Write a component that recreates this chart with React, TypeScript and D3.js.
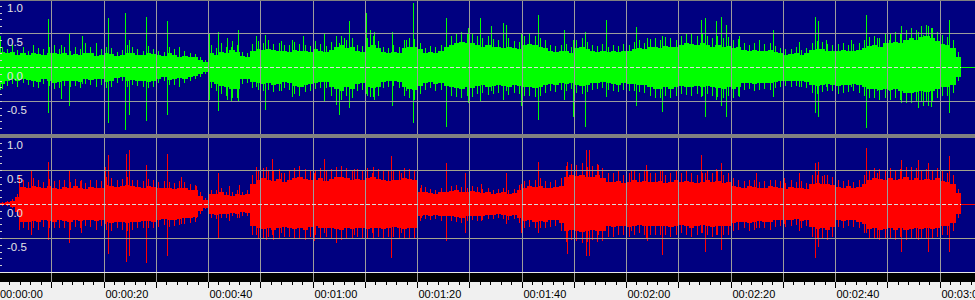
import React from "react";
import * as d3 from "d3";

// ---- data: dense-body amplitude per second (0..184 s) ----
const LEFT_UP = [
  0.22, 0.2, 0.22, 0.18, 0.2, 0.17, 0.21, 0.19, 0.18, 0.2,
  0.21, 0.19, 0.2, 0.17, 0.19, 0.18, 0.2, 0.21, 0.16, 0.18,
  0.2, 0.19, 0.16, 0.17, 0.21, 0.2, 0.18, 0.17, 0.2, 0.19,
  0.17, 0.16, 0.2, 0.18, 0.15, 0.16, 0.15, 0.14, 0.1, 0.07,
  0.2, 0.18, 0.22, 0.2, 0.25, 0.22, 0.16, 0.15, 0.24, 0.26,
  0.25, 0.27, 0.25, 0.24, 0.23, 0.22, 0.25, 0.24, 0.23, 0.22,
  0.26, 0.24, 0.22, 0.25, 0.3, 0.32, 0.28, 0.3, 0.24, 0.22,
  0.3, 0.32, 0.28, 0.22, 0.2, 0.22, 0.21, 0.28, 0.3, 0.29,
  0.26, 0.2, 0.22, 0.21, 0.23, 0.3, 0.32, 0.36, 0.37, 0.35,
  0.36, 0.33, 0.3, 0.32, 0.3, 0.29, 0.28, 0.3, 0.28, 0.27,
  0.32, 0.34, 0.33, 0.3, 0.28, 0.24, 0.22, 0.23, 0.24, 0.21,
  0.28, 0.3, 0.27, 0.23, 0.22, 0.24, 0.22, 0.23, 0.22, 0.24,
  0.23, 0.26, 0.28, 0.26, 0.29, 0.3, 0.28, 0.31, 0.3, 0.29,
  0.32, 0.35, 0.34, 0.33, 0.35, 0.32, 0.3, 0.32, 0.3, 0.31,
  0.28, 0.29, 0.25, 0.24, 0.25, 0.23, 0.24, 0.25, 0.22, 0.2,
  0.18, 0.19, 0.2, 0.18, 0.2, 0.25, 0.27, 0.26, 0.24, 0.23,
  0.24, 0.25, 0.23, 0.24, 0.25, 0.28, 0.31, 0.32, 0.3, 0.35,
  0.36, 0.37, 0.35, 0.4, 0.42, 0.39, 0.44, 0.45, 0.42, 0.38,
  0.34, 0.32, 0.28, 0.15, 0.04,
];
const LEFT_DOWN = [
  0.25, 0.2, 0.18, 0.2, 0.17, 0.19, 0.2, 0.22, 0.18, 0.2,
  0.23, 0.22, 0.2, 0.21, 0.2, 0.22, 0.18, 0.19, 0.17, 0.18,
  0.22, 0.21, 0.16, 0.15, 0.2, 0.19, 0.2, 0.2, 0.22, 0.21,
  0.17, 0.15, 0.19, 0.18, 0.16, 0.17, 0.14, 0.13, 0.1, 0.08,
  0.22, 0.25, 0.28, 0.3, 0.33, 0.32, 0.18, 0.17, 0.22, 0.24,
  0.25, 0.24, 0.26, 0.25, 0.22, 0.24, 0.28, 0.3, 0.26, 0.25,
  0.23, 0.22, 0.22, 0.3, 0.33, 0.35, 0.3, 0.32, 0.25, 0.24,
  0.3, 0.31, 0.3, 0.22, 0.21, 0.2, 0.22, 0.3, 0.33, 0.34,
  0.28, 0.24, 0.22, 0.25, 0.24, 0.28, 0.3, 0.31, 0.32, 0.3,
  0.31, 0.28, 0.27, 0.29, 0.28, 0.27, 0.28, 0.29, 0.27, 0.28,
  0.3, 0.3, 0.31, 0.3, 0.27, 0.25, 0.26, 0.24, 0.25, 0.23,
  0.27, 0.28, 0.26, 0.24, 0.23, 0.22, 0.24, 0.25, 0.26, 0.24,
  0.25, 0.25, 0.26, 0.27, 0.3, 0.33, 0.32, 0.3, 0.33, 0.3,
  0.28, 0.29, 0.3, 0.28, 0.3, 0.28, 0.3, 0.31, 0.33, 0.3,
  0.32, 0.3, 0.24, 0.23, 0.25, 0.24, 0.23, 0.24, 0.22, 0.21,
  0.2, 0.21, 0.2, 0.21, 0.22, 0.27, 0.28, 0.26, 0.25, 0.26,
  0.28, 0.27, 0.26, 0.25, 0.27, 0.3, 0.32, 0.33, 0.34, 0.32,
  0.34, 0.33, 0.35, 0.38, 0.38, 0.37, 0.36, 0.37, 0.36, 0.33,
  0.3, 0.3, 0.27, 0.14, 0.04,
];
const RIGHT_UP = [
  0.02, 0.03, 0.05, 0.1, 0.25, 0.24, 0.27, 0.25, 0.23, 0.26,
  0.24, 0.22, 0.25, 0.23, 0.26, 0.24, 0.22, 0.25, 0.23, 0.24,
  0.28, 0.27, 0.25, 0.26, 0.28, 0.26, 0.25, 0.24, 0.26, 0.25,
  0.23, 0.24, 0.23, 0.22, 0.24, 0.23, 0.21, 0.2, 0.12, 0.06,
  0.15, 0.14, 0.17, 0.13, 0.12, 0.15, 0.13, 0.14, 0.3, 0.35,
  0.38, 0.36, 0.34, 0.37, 0.33, 0.36, 0.38, 0.4, 0.37, 0.35,
  0.36, 0.38, 0.34, 0.37, 0.39, 0.4, 0.38, 0.36, 0.37, 0.35,
  0.38, 0.39, 0.37, 0.36, 0.34, 0.35, 0.36, 0.38, 0.37, 0.35,
  0.17, 0.18, 0.16, 0.15, 0.17, 0.18, 0.19, 0.2, 0.18, 0.17,
  0.19, 0.18, 0.16, 0.17, 0.15, 0.16, 0.17, 0.15, 0.16, 0.2,
  0.24, 0.26, 0.25, 0.27, 0.24, 0.23, 0.25, 0.27, 0.4, 0.42,
  0.41, 0.43, 0.39, 0.4, 0.42, 0.38, 0.33, 0.32, 0.34, 0.31,
  0.33, 0.35, 0.32, 0.34, 0.33, 0.32, 0.34, 0.31, 0.33, 0.35,
  0.32, 0.34, 0.33, 0.31, 0.33, 0.35, 0.32, 0.34, 0.31, 0.33,
  0.27, 0.25, 0.24, 0.26, 0.25, 0.23, 0.24, 0.26, 0.25, 0.24,
  0.22, 0.25, 0.23, 0.24, 0.22, 0.3, 0.31, 0.29, 0.3, 0.28,
  0.25, 0.24, 0.26, 0.23, 0.25, 0.3, 0.36, 0.38, 0.37, 0.35,
  0.38, 0.36, 0.37, 0.39, 0.36, 0.38, 0.35, 0.37, 0.36, 0.38,
  0.34, 0.33, 0.3, 0.16, 0.05,
];
const RIGHT_DOWN = [
  0.02, 0.02, 0.04, 0.12, 0.26, 0.27, 0.25, 0.27, 0.24, 0.25,
  0.26, 0.23, 0.25, 0.27, 0.24, 0.25, 0.23, 0.24, 0.25, 0.23,
  0.27, 0.28, 0.26, 0.27, 0.28, 0.27, 0.26, 0.25, 0.25, 0.26,
  0.24, 0.22, 0.24, 0.23, 0.22, 0.21, 0.2, 0.19, 0.1, 0.06,
  0.14, 0.16, 0.15, 0.14, 0.13, 0.14, 0.12, 0.13, 0.32, 0.36,
  0.37, 0.35, 0.38, 0.36, 0.34, 0.35, 0.37, 0.36, 0.38, 0.34,
  0.33, 0.36, 0.35, 0.36, 0.37, 0.38, 0.36, 0.37, 0.35, 0.36,
  0.37, 0.36, 0.35, 0.37, 0.35, 0.34, 0.36, 0.37, 0.36, 0.36,
  0.18, 0.16, 0.17, 0.16, 0.18, 0.17, 0.18, 0.19, 0.2, 0.18,
  0.17, 0.18, 0.17, 0.16, 0.16, 0.15, 0.16, 0.17, 0.16, 0.2,
  0.25, 0.24, 0.26, 0.25, 0.26, 0.24, 0.23, 0.28, 0.4, 0.38,
  0.39, 0.41, 0.4, 0.38, 0.4, 0.39, 0.32, 0.34, 0.33, 0.32,
  0.34, 0.33, 0.31, 0.33, 0.32, 0.33, 0.32, 0.33, 0.34, 0.33,
  0.31, 0.33, 0.35, 0.32, 0.31, 0.33, 0.34, 0.32, 0.33, 0.32,
  0.28, 0.27, 0.26, 0.28, 0.27, 0.25, 0.26, 0.27, 0.24, 0.23,
  0.24, 0.23, 0.22, 0.25, 0.23, 0.34, 0.37, 0.36, 0.38, 0.34,
  0.24, 0.25, 0.23, 0.24, 0.26, 0.3, 0.37, 0.36, 0.38, 0.37,
  0.36, 0.38, 0.35, 0.38, 0.37, 0.36, 0.37, 0.36, 0.37, 0.35,
  0.33, 0.32, 0.28, 0.15, 0.05,
];

// ---- data: jagged edge peaks, one per second at t + 0.5 ----
const LEFT_UP_EDGE = [
  0.3, 0.27, 0.33, 0.25, 0.3, 0.24, 0.32, 0.28, 0.26, 0.3,
  0.33, 0.26, 0.3, 0.24, 0.29, 0.27, 0.35, 0.3, 0.22, 0.26,
  0.3, 0.28, 0.22, 0.25, 0.33, 0.29, 0.26, 0.24, 0.31, 0.27,
  0.24, 0.22, 0.3, 0.26, 0.21, 0.24, 0.2, 0.19, 0.14, 0.1,
  0.32, 0.28, 0.35, 0.3, 0.38, 0.33, 0.22, 0.21, 0.34, 0.38,
  0.35, 0.4, 0.34, 0.36, 0.32, 0.33, 0.37, 0.34, 0.33, 0.31,
  0.38, 0.34, 0.31, 0.37, 0.42, 0.45, 0.39, 0.43, 0.33, 0.31,
  0.42, 0.45, 0.38, 0.3, 0.28, 0.32, 0.29, 0.4, 0.43, 0.41,
  0.36, 0.28, 0.31, 0.3, 0.33, 0.42, 0.45, 0.5, 0.52, 0.48,
  0.5, 0.45, 0.42, 0.46, 0.41, 0.4, 0.39, 0.43, 0.38, 0.37,
  0.45, 0.48, 0.46, 0.42, 0.39, 0.33, 0.31, 0.33, 0.34, 0.3,
  0.4, 0.43, 0.37, 0.32, 0.31, 0.34, 0.3, 0.33, 0.31, 0.34,
  0.32, 0.37, 0.4, 0.36, 0.41, 0.42, 0.39, 0.44, 0.42, 0.4,
  0.45, 0.5, 0.48, 0.46, 0.5, 0.45, 0.42, 0.46, 0.42, 0.44,
  0.4, 0.41, 0.35, 0.33, 0.36, 0.32, 0.34, 0.35, 0.31, 0.28,
  0.26, 0.27, 0.29, 0.25, 0.28, 0.36, 0.38, 0.37, 0.34, 0.32,
  0.34, 0.36, 0.32, 0.34, 0.35, 0.39, 0.44, 0.45, 0.42, 0.49,
  0.5, 0.52, 0.49, 0.55, 0.58, 0.54, 0.6, 0.62, 0.58, 0.52,
  0.47, 0.44, 0.4, 0.22, 0.06,
];
const LEFT_DOWN_EDGE = [
  0.33, 0.28, 0.25, 0.29, 0.24, 0.27, 0.29, 0.31, 0.25, 0.28,
  0.32, 0.31, 0.28, 0.3, 0.28, 0.31, 0.25, 0.27, 0.24, 0.26,
  0.31, 0.3, 0.23, 0.21, 0.29, 0.27, 0.28, 0.29, 0.31, 0.3,
  0.24, 0.21, 0.27, 0.26, 0.23, 0.24, 0.2, 0.18, 0.14, 0.11,
  0.31, 0.36, 0.4, 0.43, 0.46, 0.45, 0.25, 0.24, 0.31, 0.34,
  0.36, 0.34, 0.37, 0.35, 0.31, 0.34, 0.4, 0.42, 0.37, 0.35,
  0.32, 0.31, 0.31, 0.42, 0.47, 0.49, 0.42, 0.45, 0.35, 0.34,
  0.42, 0.44, 0.42, 0.31, 0.3, 0.28, 0.31, 0.42, 0.46, 0.48,
  0.4, 0.34, 0.31, 0.35, 0.34, 0.4, 0.42, 0.44, 0.45, 0.42,
  0.44, 0.4, 0.38, 0.41, 0.4, 0.38, 0.39, 0.41, 0.38, 0.4,
  0.42, 0.42, 0.44, 0.42, 0.38, 0.35, 0.37, 0.34, 0.35, 0.32,
  0.38, 0.4, 0.37, 0.34, 0.32, 0.31, 0.34, 0.35, 0.37, 0.34,
  0.35, 0.35, 0.37, 0.38, 0.42, 0.46, 0.45, 0.42, 0.46, 0.42,
  0.4, 0.41, 0.42, 0.4, 0.42, 0.4, 0.42, 0.44, 0.46, 0.42,
  0.45, 0.42, 0.34, 0.32, 0.35, 0.34, 0.32, 0.34, 0.31, 0.3,
  0.28, 0.3, 0.28, 0.3, 0.31, 0.38, 0.39, 0.37, 0.35, 0.36,
  0.39, 0.38, 0.37, 0.35, 0.38, 0.42, 0.45, 0.46, 0.48, 0.45,
  0.48, 0.46, 0.49, 0.53, 0.53, 0.52, 0.5, 0.52, 0.5, 0.46,
  0.42, 0.42, 0.38, 0.2, 0.06,
];
const RIGHT_UP_EDGE = [
  0.03, 0.04, 0.08, 0.15, 0.35, 0.33, 0.38, 0.35, 0.32, 0.37,
  0.34, 0.31, 0.35, 0.32, 0.37, 0.34, 0.31, 0.35, 0.32, 0.34,
  0.39, 0.38, 0.35, 0.37, 0.4, 0.36, 0.35, 0.34, 0.37, 0.35,
  0.32, 0.34, 0.32, 0.31, 0.34, 0.32, 0.3, 0.28, 0.17, 0.09,
  0.21, 0.2, 0.24, 0.18, 0.17, 0.21, 0.18, 0.2, 0.42, 0.49,
  0.53, 0.5, 0.48, 0.52, 0.46, 0.5, 0.53, 0.56, 0.52, 0.49,
  0.5, 0.53, 0.48, 0.52, 0.55, 0.56, 0.53, 0.5, 0.52, 0.49,
  0.53, 0.55, 0.52, 0.5, 0.48, 0.49, 0.5, 0.53, 0.52, 0.49,
  0.24, 0.25, 0.22, 0.21, 0.24, 0.25, 0.27, 0.28, 0.25, 0.24,
  0.27, 0.25, 0.22, 0.24, 0.21, 0.22, 0.24, 0.21, 0.22, 0.28,
  0.34, 0.36, 0.35, 0.38, 0.34, 0.32, 0.35, 0.38, 0.56, 0.59,
  0.57, 0.6, 0.55, 0.56, 0.59, 0.53, 0.46, 0.45, 0.48, 0.43,
  0.46, 0.49, 0.45, 0.48, 0.46, 0.45, 0.48, 0.43, 0.46, 0.49,
  0.45, 0.48, 0.46, 0.43, 0.46, 0.49, 0.45, 0.48, 0.43, 0.46,
  0.38, 0.35, 0.34, 0.36, 0.35, 0.32, 0.34, 0.36, 0.35, 0.34,
  0.31, 0.35, 0.32, 0.34, 0.31, 0.42, 0.43, 0.41, 0.42, 0.39,
  0.35, 0.34, 0.36, 0.32, 0.35, 0.42, 0.5, 0.53, 0.52, 0.49,
  0.53, 0.5, 0.52, 0.55, 0.5, 0.53, 0.49, 0.52, 0.5, 0.53,
  0.48, 0.46, 0.42, 0.22, 0.07,
];
const RIGHT_DOWN_EDGE = [
  0.03, 0.03, 0.06, 0.17, 0.36, 0.38, 0.35, 0.38, 0.34, 0.35,
  0.36, 0.32, 0.35, 0.38, 0.34, 0.35, 0.32, 0.34, 0.35, 0.32,
  0.38, 0.39, 0.36, 0.38, 0.39, 0.38, 0.36, 0.35, 0.35, 0.36,
  0.34, 0.31, 0.34, 0.32, 0.31, 0.29, 0.28, 0.27, 0.14, 0.08,
  0.2, 0.22, 0.21, 0.2, 0.18, 0.2, 0.17, 0.18, 0.45, 0.5,
  0.52, 0.49, 0.53, 0.5, 0.48, 0.49, 0.52, 0.5, 0.53, 0.48,
  0.46, 0.5, 0.49, 0.5, 0.52, 0.53, 0.5, 0.52, 0.49, 0.5,
  0.52, 0.5, 0.49, 0.52, 0.49, 0.48, 0.5, 0.52, 0.5, 0.5,
  0.25, 0.22, 0.24, 0.22, 0.25, 0.24, 0.25, 0.27, 0.28, 0.25,
  0.24, 0.25, 0.24, 0.22, 0.22, 0.21, 0.22, 0.24, 0.22, 0.28,
  0.35, 0.34, 0.36, 0.35, 0.36, 0.34, 0.32, 0.39, 0.56, 0.53,
  0.55, 0.57, 0.56, 0.53, 0.56, 0.55, 0.45, 0.48, 0.46, 0.45,
  0.48, 0.46, 0.43, 0.46, 0.45, 0.46, 0.45, 0.46, 0.48, 0.46,
  0.43, 0.46, 0.49, 0.45, 0.43, 0.46, 0.48, 0.45, 0.46, 0.45,
  0.39, 0.38, 0.36, 0.39, 0.38, 0.35, 0.36, 0.38, 0.34, 0.32,
  0.34, 0.32, 0.31, 0.35, 0.32, 0.48, 0.52, 0.5, 0.53, 0.48,
  0.34, 0.35, 0.32, 0.34, 0.36, 0.42, 0.52, 0.5, 0.53, 0.52,
  0.5, 0.53, 0.49, 0.53, 0.52, 0.5, 0.52, 0.5, 0.52, 0.49,
  0.46, 0.45, 0.39, 0.21, 0.07,
];

// ---- data: tall transient peaks [seconds, up, down] ----
const LEFT_PEAKS: [number, number, number][] = [
  [0.13, 0.45, 0.34], [9.44, 0.71, 0.68], [11.93, 0.32, 0.47], [13.4, 0.5, 0.58],
  [15.95, 0.45, 0.25], [18.5, 0.35, 0.3], [20.16, 0.59, 0.3], [20.93, 0.72, 0.82],
  [24.18, 0.79, 0.92], [24.94, 0.4, 0.71], [28.13, 0.73, 0.79], [32.22, 0.67, 0.71],
  [34.45, 0.3, 0.3], [40.19, 0.5, 0.49], [41.98, 0.51, 0.64], [43.64, 0.42, 0.49],
  [44.34, 0.3, 0.5], [45.68, 0.54, 0.5], [49.1, 0.45, 0.3], [50.97, 0.47, 0.63],
  [53.9, 0.38, 0.35], [56.14, 0.4, 0.44], [58.2, 0.45, 0.3], [62.2, 0.5, 0.51],
  [64.5, 0.45, 0.56], [65.1, 0.35, 0.7], [66.1, 0.42, 0.3], [67.05, 0.67, 0.6],
  [70.3, 0.79, 0.4], [71.07, 0.55, 0.44], [71.84, 0.52, 0.48], [75.15, 0.52, 0.58],
  [77.9, 0.4, 0.35], [79.17, 0.94, 0.83], [85.62, 0.72, 0.88], [89.7, 0.57, 0.53],
  [92.1, 0.72, 0.51], [94.2, 0.6, 0.35], [96.4, 0.64, 0.48], [97.04, 0.62, 0.35],
  [99.9, 0.5, 0.58], [101.5, 0.5, 0.35], [103.1, 0.76, 0.78], [108.2, 0.54, 0.48],
  [109.9, 0.4, 0.73], [112.2, 0.52, 0.88], [116.2, 0.69, 0.44], [120.0, 0.52, 0.35],
  [122.0, 0.59, 0.58], [123.5, 0.35, 0.3], [124.1, 0.42, 0.3], [126.95, 0.45, 0.66],
  [134.3, 0.69, 0.44], [135.05, 0.72, 0.74], [137.2, 0.67, 0.48], [138.24, 0.74, 0.58],
  [139.07, 0.62, 0.74], [140.0, 0.64, 0.39], [141.6, 0.45, 0.44], [145.45, 0.4, 0.3],
  [148.2, 0.54, 0.44], [153.1, 0.37, 0.3], [156.1, 0.74, 0.68], [156.8, 0.67, 0.74],
  [158.2, 0.4, 0.3], [160.0, 0.47, 0.48], [163.0, 0.4, 0.3], [166.0, 0.76, 0.89],
  [168.1, 0.42, 0.35], [170.3, 0.4, 0.35], [172.7, 0.6, 0.53], [174.5, 0.42, 0.4],
  [175.9, 0.52, 0.61], [176.9, 0.47, 0.58], [177.8, 0.6, 0.58], [178.4, 0.57, 0.59],
  [181.9, 0.69, 0.68],
];
const RIGHT_PEAKS: [number, number, number][] = [
  [3.83, 0.43, 0.38], [6.06, 0.5, 0.46], [9.44, 0.62, 0.53], [11.5, 0.35, 0.35],
  [13.4, 0.5, 0.58], [15.63, 0.35, 0.43], [18.5, 0.35, 0.38], [20.29, 0.55, 0.3],
  [20.93, 0.72, 0.73], [24.24, 0.74, 0.85], [24.94, 0.79, 0.77], [28.13, 0.57, 0.87],
  [29.98, 0.35, 0.43], [32.22, 0.74, 0.77], [34.77, 0.4, 0.3], [37.64, 0.26, 0.2],
  [41.98, 0.45, 0.5], [44.0, 0.26, 0.25], [45.93, 0.28, 0.2], [49.1, 0.54, 0.45],
  [51.04, 0.55, 0.53], [52.3, 0.66, 0.45], [53.9, 0.45, 0.43], [57.4, 0.48, 0.45],
  [60.3, 0.45, 0.55], [62.2, 0.66, 0.43], [64.5, 0.45, 0.58], [68.0, 0.52, 0.45],
  [70.12, 0.79, 0.53], [71.33, 0.45, 0.43], [75.0, 0.7, 0.8], [76.9, 0.45, 0.42],
  [80.8, 0.28, 0.2], [85.55, 0.6, 0.55], [89.1, 0.45, 0.43], [92.2, 0.3, 0.25],
  [97.04, 0.45, 0.3], [99.9, 0.3, 0.43], [103.1, 0.62, 0.43], [108.8, 0.62, 0.73],
  [112.35, 0.79, 0.77], [113.0, 0.79, 0.77], [114.6, 0.58, 0.45], [116.5, 0.45, 0.48],
  [121.0, 0.5, 0.4], [123.8, 0.57, 0.5], [124.1, 0.5, 0.55], [126.95, 0.48, 0.75],
  [134.3, 0.72, 0.43], [135.05, 0.45, 0.7], [137.2, 0.52, 0.45], [138.24, 0.6, 0.68],
  [144.8, 0.45, 0.35], [150.2, 0.38, 0.3], [153.1, 0.46, 0.4], [156.1, 0.6, 0.8],
  [156.8, 0.62, 0.63], [157.9, 0.43, 0.35], [166.0, 0.82, 0.43], [168.1, 0.45, 0.5],
  [172.7, 0.65, 0.7], [174.5, 0.55, 0.45], [175.9, 0.65, 0.53], [177.8, 0.6, 0.7],
  [181.9, 0.7, 0.7],
];

const END_SECONDS = 184.1;
const VIEW_SECONDS = 186.6;
const TIME_LABELS = ["00:00:00", "00:00:20", "00:00:40", "00:01:00", "00:01:20", "00:01:40", "00:02:00", "00:02:20", "00:02:40", "00:03:00"];
const AMP_LABELS = ["1.0", "0.5", "0.0", "-0.5"];
const AMP_VALUES = [1, 0.5, 0, -0.5];

const W = 975;
const H = 300;
const NAVY = "#000080";
const GRID = "#9c9c9c";
const FONT = "'Liberation Sans', Arial, sans-serif";

const xs = d3.scaleLinear().domain([0, VIEW_SECONDS]).range([-0.5, W - 0.5]);
const px = (t: number) => Math.floor(xs(t)) + 0.5;

type Chan = {
  up: number[];
  down: number[];
  upEdge: number[];
  downEdge: number[];
  peaks: [number, number, number][];
  color: string;
  y: d3.ScaleLinear<number, number>;
};

function Channel({ up, down, upEdge, downEdge, peaks, color, y }: Chan) {
  const pts = up.map((u, i) => ({ t: i, u, d: down[i] }));
  pts.push({ t: END_SECONDS, u: up[up.length - 1], d: down[down.length - 1] });
  const area = d3
    .area<{ t: number; u: number; d: number }>()
    .x((p) => xs(p.t))
    .y0((p) => y(-p.d))
    .y1((p) => y(p.u))
    .curve(d3.curveStepAfter);
  const y0 = Math.round(y(0)) + 0.5;
  return (
    <g>
      <path d={area(pts) || ""} fill={color} />
      {upEdge.map((u, i) => {
        const t = Math.min(i + 0.5, END_SECONDS - 0.2);
        return <line key={"e" + i} x1={px(t)} x2={px(t)} y1={y(u)} y2={y(-downEdge[i])} stroke={color} strokeWidth={1} />;
      })}
      {peaks.map(([t, u, d], i) => (
        <line key={i} x1={px(t)} x2={px(t)} y1={y(u)} y2={y(-d)} stroke={color} strokeWidth={1} />
      ))}
      <line x1={xs(END_SECONDS)} x2={W} y1={y0} y2={y0} stroke={color} strokeWidth={1} />
    </g>
  );
}

function Panel({ y, top, bottom, hColor }: { y: d3.ScaleLinear<number, number>; top: number; bottom: number; hColor: string }) {
  const gridT = d3.range(10, VIEW_SECONDS, 10);
  const ticks01 = d3.range(-9, 10).map((k) => k / 10).filter((v) => Math.abs(v) > 0.01);
  const y0 = Math.round(y(0)) + 0.5;
  return (
    <g>
      {[0.5, -0.5].map((v) => (
        <line key={v} x1={0} x2={W} y1={Math.round(y(v)) + 0.5} y2={Math.round(y(v)) + 0.5} stroke={hColor} />
      ))}
      {gridT.map((t) => (
        <line key={t} x1={px(t)} x2={px(t)} y1={top} y2={bottom} stroke={GRID} />
      ))}
      <line x1={0} x2={xs(END_SECONDS)} y1={y0} y2={y0} stroke="#dcdcdc" strokeDasharray="4,2" />
      {ticks01.map((v) => (
        <line key={v} x1={0} x2={2} y1={Math.round(y(v)) + 0.5} y2={Math.round(y(v)) + 0.5} stroke="#d0d0d0" />
      ))}
      {AMP_LABELS.map((s, i) => (
        <text key={s} x={7} y={y(AMP_VALUES[i]) + 12.5} fill="#e4e4e4" fontSize={11.5} fontFamily={FONT}>
          {s}
        </text>
      ))}
    </g>
  );
}

export default function App() {
  const yTop = d3.scaleLinear().domain([-1, 1]).range([135, -1]);
  const yBot = d3.scaleLinear().domain([-1, 1]).range([272, 136]);
  const minor = d3.range(0, VIEW_SECONDS, 2);
  const major = d3.range(0, VIEW_SECONDS, 10);
  return (
    <div style={{ position: "fixed", left: 0, top: 0 }}>
      <svg width={W} height={H} style={{ display: "block" }} shapeRendering="crispEdges">
        <defs>
          <clipPath id="cTop"><rect x={0} y={1} width={W} height={133} /></clipPath>
          <clipPath id="cBot"><rect x={0} y={138} width={W} height={134} /></clipPath>
        </defs>
        <rect x={0} y={0} width={W} height={H} fill="#f0f0f0" />
        <rect x={0} y={0} width={W} height={272} fill={NAVY} />
        <g clipPath="url(#cTop)">
          <Channel up={LEFT_UP} down={LEFT_DOWN} upEdge={LEFT_UP_EDGE} downEdge={LEFT_DOWN_EDGE} peaks={LEFT_PEAKS} color="#00ff00" y={yTop} />
        </g>
        <g clipPath="url(#cBot)">
          <Channel up={RIGHT_UP} down={RIGHT_DOWN} upEdge={RIGHT_UP_EDGE} downEdge={RIGHT_DOWN_EDGE} peaks={RIGHT_PEAKS} color="#ff0000" y={yBot} />
        </g>
        <Panel y={yTop} top={0} bottom={134} hColor={GRID} />
        <Panel y={yBot} top={138} bottom={272} hColor="#a4a48c" />
        <rect x={0} y={0} width={W} height={1} fill="#808080" />
        <rect x={0} y={134} width={W} height={4} fill="#808080" />
        <rect x={0} y={272} width={W} height={1} fill="#e8e8e8" />
        <rect x={0} y={273} width={W} height={9} fill="#000000" />
        {major.filter((t) => t > 0).map((t) => (
          <line key={"g" + t} x1={px(t)} x2={px(t)} y1={273} y2={282} stroke={GRID} />
        ))}
        {minor.map((t) => (
          <line key={"m" + t} x1={px(t)} x2={px(t)} y1={282} y2={285} stroke="#000" />
        ))}
        {major.map((t) => (
          <line key={"M" + t} x1={px(t)} x2={px(t)} y1={282} y2={288} stroke="#000" />
        ))}
        {TIME_LABELS.map((s, i) => (
          <text key={s} x={i === 0 ? 0 : px(i * 20) + 1} y={298} fontSize={11} fontFamily={FONT} fill="#000">
            {s}
          </text>
        ))}
      </svg>
    </div>
  );
}
